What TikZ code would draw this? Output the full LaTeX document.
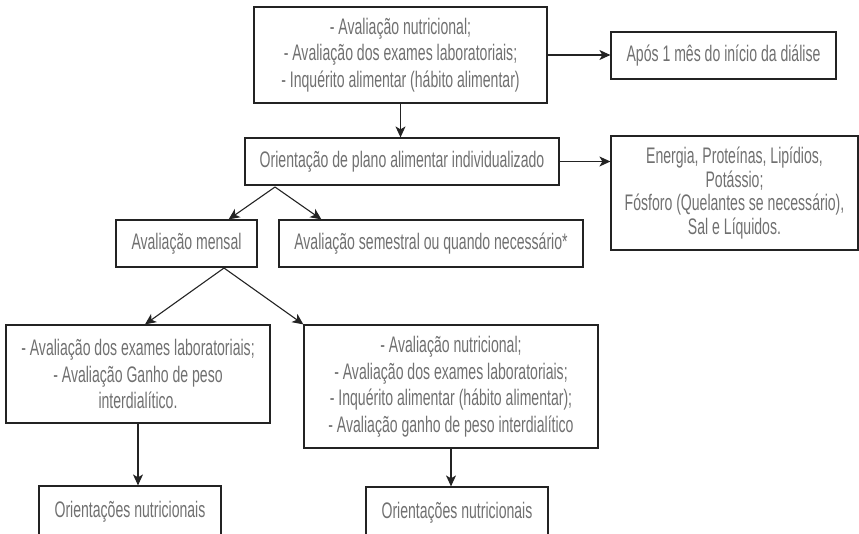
\documentclass[tikz,border=0pt]{standalone}
\usepackage{fontspec}
\setmainfont[FakeStretch=0.625]{Liberation Sans}
\usepackage{tikz}
\usetikzlibrary{arrows.meta}
\usepackage{xcolor}
\definecolor{boxtext}{RGB}{112,112,112}
\definecolor{boxline}{RGB}{35,35,35}
\tikzset{
  box/.style={draw=boxline,line width=1.2pt,text=boxtext,align=center,inner sep=0pt,font={\fontsize{22.5}{26.5}\selectfont}},
  arr/.style={-{Stealth[length=11pt,width=10pt,inset=3pt]},draw=boxline,line width=1.1pt}
}

\begin{document}
\begin{tikzpicture}[x=1pt,y=-1pt]

    \useasboundingbox (0,0) rectangle (859,533);
    \clip (0,0) rectangle (859,533);

    \node[box,minimum width=293pt,minimum height=96pt] (AvNu) at (400.5,55) {- Avaliação nutricional;\\- Avaliação dos exames laboratoriais;\\- Inquérito alimentar (hábito alimentar)};
    \node[box,minimum width=225pt,minimum height=47pt] (ApMe) at (723.5,55.5) {Após 1 mês do início da diálise};

    \node[box,minimum width=314pt,minimum height=47pt] (OrPl) at (402,161.5) {Orientação de plano alimentar individualizado};
    \node[box,minimum width=247pt,minimum height=114pt,font={\fontsize{22.5}{23.5}\selectfont}] (EnPr) at (734.5,193) {Energia, Proteínas, Lipídios,\\Potássio;\\Fósforo (Quelantes se necessário),\\Sal e Líquidos.};

    \node[box,minimum width=141pt,minimum height=47pt] (AvMe) at (186.5,243.5) {Avaliação mensal};
    \node[box,minimum width=304pt,minimum height=47pt] (AvSe) at (431,243.5) {Avaliação semestral ou quando necessário*};

    \node[box,minimum width=264pt,minimum height=98pt] (AvLa) at (138,374) {- Avaliação dos exames laboratoriais;\\- Avaliação Ganho de peso\\interdialítico.};
    \node[box,minimum width=294pt,minimum height=123pt] (AvGa) at (451,386.5) {- Avaliação nutricional;\\- Avaliação dos exames laboratoriais;\\- Inquérito alimentar (hábito alimentar);\\- Avaliação ganho de peso interdialítico};

    \node[box,minimum width=182pt,minimum height=52pt] (OrNuA) at (130,512) {Orientações nutricionais};
    \node[box,minimum width=182pt,minimum height=52pt] (OrNuB) at (457,513) {Orientações nutricionais};

    \coordinate (OrPlFk) at (275,187);
    \coordinate (AvMeFk) at (224,268);

    \draw[arr] (AvNu.east) to (AvNu.east -| ApMe.west);
    \draw[arr] (AvNu.south) to (AvNu.south |- OrPl.north);
    \draw[arr] (OrPl.east) to (OrPl.east -| EnPr.west);

    \draw[arr] (OrPlFk) to ([xshift=-29pt]AvMe.north east);
    \draw[arr] (OrPlFk) to ([xshift=43pt]AvSe.north west);

    \draw[arr] (AvMeFk) to ([xshift=7pt]AvLa.north);
    \draw[arr] (AvMeFk) to (AvGa.north west);

    \draw[arr] (AvLa.south) to (AvLa.south |- OrNuA.north);
    \draw[arr] (AvGa.south) to (AvGa.south |- OrNuB.north);

\end{tikzpicture}
\end{document}
